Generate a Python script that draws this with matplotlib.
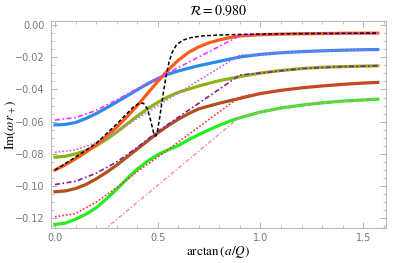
import matplotlib
matplotlib.use("Agg")
import matplotlib.pyplot as plt
from matplotlib.ticker import MultipleLocator, FuncFormatter

plt.rcParams['mathtext.fontset'] = 'stix'

# Solid curves (x, y)
x_orange = [0.0, 0.05, 0.1, 0.15, 0.2, 0.25, 0.3, 0.35, 0.4, 0.45, 0.5, 0.55, 0.6, 0.65, 0.7, 0.75, 0.8, 0.85, 0.9, 1.0, 1.1, 1.2, 1.4, 1.5708]
y_orange = [-0.090, -0.0868, -0.083, -0.079, -0.0745, -0.069, -0.0635, -0.057, -0.050, -0.0425, -0.035, -0.028, -0.0218, -0.017, -0.0135, -0.011, -0.0092, -0.0078, -0.0068, -0.006, -0.0056, -0.0054, -0.0051, -0.005]

x_blue = [0.0, 0.05, 0.1, 0.15, 0.2, 0.25, 0.3, 0.35, 0.4, 0.45, 0.5, 0.55, 0.6, 0.65, 0.7, 0.8, 0.9, 1.0, 1.1, 1.2, 1.3, 1.4, 1.5, 1.5708]
y_blue = [-0.062, -0.0617, -0.0605, -0.058, -0.055, -0.0515, -0.0478, -0.044, -0.0402, -0.0365, -0.0332, -0.0305, -0.0285, -0.0268, -0.0252, -0.0225, -0.0198, -0.0182, -0.0172, -0.0165, -0.016, -0.0156, -0.0153, -0.0152]

x_olive = [0.0, 0.05, 0.1, 0.15, 0.2, 0.25, 0.3, 0.35, 0.4, 0.45, 0.5, 0.55, 0.6, 0.7, 0.8, 0.9, 1.0, 1.1, 1.2, 1.3, 1.4, 1.5, 1.5708]
y_olive = [-0.082, -0.0815, -0.080, -0.078, -0.075, -0.071, -0.0665, -0.0615, -0.0565, -0.052, -0.048, -0.0445, -0.0418, -0.0378, -0.0345, -0.032, -0.0298, -0.0282, -0.027, -0.0262, -0.0258, -0.0255, -0.0253]

x_brown = [0.0, 0.05, 0.1, 0.15, 0.2, 0.25, 0.3, 0.35, 0.4, 0.45, 0.5, 0.55, 0.6, 0.65, 0.7, 0.8, 0.9, 1.0, 1.1, 1.2, 1.3, 1.4, 1.5, 1.5708]
y_brown = [-0.1035, -0.103, -0.1015, -0.099, -0.0955, -0.0915, -0.087, -0.082, -0.077, -0.072, -0.067, -0.0625, -0.0585, -0.055, -0.052, -0.0485, -0.0455, -0.0425, -0.0405, -0.039, -0.0378, -0.0368, -0.036, -0.0356]

x_green = [0.0, 0.05, 0.1, 0.15, 0.2, 0.25, 0.3, 0.35, 0.4, 0.45, 0.5, 0.55, 0.6, 0.65, 0.7, 0.75, 0.8, 0.85, 0.9, 1.0, 1.1, 1.2, 1.3, 1.4, 1.5, 1.5708]
y_green = [-0.1238, -0.123, -0.1205, -0.1175, -0.1135, -0.108, -0.102, -0.0955, -0.0895, -0.0845, -0.0805, -0.0775, -0.0748, -0.0712, -0.068, -0.065, -0.0622, -0.0597, -0.0575, -0.054, -0.0515, -0.0497, -0.0483, -0.0472, -0.0465, -0.046]

# Approximation curves
x_black = [0.0, 0.1, 0.2, 0.3, 0.35, 0.38, 0.41, 0.43, 0.45, 0.465, 0.48, 0.49, 0.5, 0.51, 0.525, 0.54, 0.555, 0.57, 0.59, 0.62, 0.66, 0.72, 0.8, 0.9, 1.0, 1.2, 1.5708]
y_black = [-0.090, -0.082, -0.0735, -0.0615, -0.055, -0.051, -0.0485, -0.0485, -0.052, -0.059, -0.067, -0.069, -0.065, -0.057, -0.044, -0.032, -0.023, -0.017, -0.0125, -0.0095, -0.0078, -0.0067, -0.0062, -0.0058, -0.0056, -0.0053, -0.005]

x_magenta = [0.0, 0.1, 0.2, 0.3, 0.4, 0.5, 0.9, 1.0, 1.2, 1.4, 1.5708]
y_magenta = [-0.059, -0.0575, -0.053, -0.0465, -0.0395, -0.033, -0.0066, -0.006, -0.0054, -0.0051, -0.005]

x_violet = [0.0, 0.1, 0.2, 0.3, 0.4, 0.5, 0.9, 1.0, 1.2, 1.4, 1.5708]
y_violet = [-0.079, -0.0775, -0.073, -0.066, -0.058, -0.050, -0.0186, -0.0182, -0.0165, -0.0156, -0.0152]

x_purple = [0.0, 0.1, 0.2, 0.3, 0.4, 0.5, 0.9, 1.0, 1.2, 1.4, 1.5708]
y_purple = [-0.099, -0.097, -0.092, -0.085, -0.076, -0.066, -0.031, -0.0298, -0.027, -0.0258, -0.0253]

x_red = [0.0, 0.1, 0.2, 0.3, 0.4, 0.5, 0.9, 1.0, 1.2, 1.4, 1.5708]
y_red = [-0.119, -0.117, -0.110, -0.101, -0.091, -0.082, -0.0445, -0.0425, -0.039, -0.0368, -0.0356]

x_pink = [0.2, 0.9, 1.0, 1.2, 1.4, 1.5708]
y_pink = [-0.1313, -0.057, -0.054, -0.0497, -0.0472, -0.046]

fig = plt.figure(figsize=(4.07, 2.63), dpi=100)
ax = fig.add_axes([0.125, 0.133, 0.823, 0.787])

lw = 2.3
ax.plot(x_green, y_green, color='#22EE22', lw=lw, zorder=2)
ax.plot(x_brown, y_brown, color='#B0501E', lw=lw, zorder=2)
ax.plot(x_olive, y_olive, color='#8DB315', lw=lw, zorder=2)
ax.plot(x_blue, y_blue, color='#2A8CE8', lw=lw, zorder=2)
ax.plot(x_orange, y_orange, color='#FF5A1A', lw=lw, zorder=2)

ax.plot(x_pink, y_pink, color='#FF8A8A', lw=1.0, ls=(0, (3, 1.5, 1, 1.5)), zorder=3)
ax.plot(x_red, y_red, color='#FF3030', lw=1.2, ls=(0, (1, 1.2)), zorder=3)
ax.plot(x_purple, y_purple, color='#8A1A9A', lw=1.2, ls=(0, (3, 1.5, 1, 1.5)), zorder=3)
ax.plot(x_violet, y_violet, color='#D060F0', lw=1.2, ls=(0, (1, 1.2)), zorder=3)
ax.plot(x_magenta, y_magenta, color='#FF30FF', lw=1.2, ls=(0, (3, 1.5, 1, 1.5)), zorder=3)
ax.plot(x_black, y_black, color='black', lw=1.1, ls=(0, (2.5, 1.5)), zorder=4)

ax.set_xlim(-0.02, 1.61)
ax.set_ylim(-0.126, 0.0025)

ax.xaxis.set_major_locator(MultipleLocator(0.5))
ax.xaxis.set_minor_locator(MultipleLocator(0.1))
ax.yaxis.set_major_locator(MultipleLocator(0.02))
ax.yaxis.set_minor_locator(MultipleLocator(0.005))
ax.xaxis.set_major_formatter(FuncFormatter(lambda v, p: f"{v:.1f}"))
ax.yaxis.set_major_formatter(FuncFormatter(lambda v, p: ("\u2212" if v < -1e-9 else "") + f"{abs(v):.2f}"))

for s in ax.spines.values():
    s.set_color('#BBBBBB')
    s.set_linewidth(0.8)
ax.tick_params(which='both', direction='in', colors='#AAAAAA', labelcolor='#777777', labelsize=7, top=True, right=True)
ax.tick_params(which='major', length=4, width=0.6)
ax.tick_params(which='minor', length=2, width=0.5)
ax.tick_params(axis='y', which='major', pad=4.5)
ax.tick_params(axis='both', which='both', labeltop=False, labelright=False)

ax.set_title(r'$\mathcal{R}=0.980$', fontsize=10, pad=4)
ax.set_xlabel(r'$\mathrm{arctan}\,(a/Q)$', fontsize=9.5, labelpad=1)
ax.set_ylabel(r'$\mathrm{Im}(\omega\, r_+)$', fontsize=9.5)
ax.yaxis.set_label_coords(-0.098, 0.5)

fig.savefig('out.png', dpi=100)
